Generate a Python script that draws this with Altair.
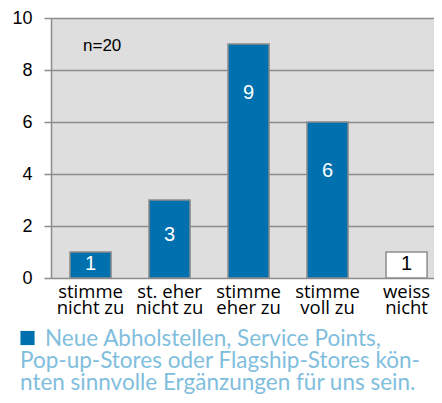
import altair as alt
import pandas as pd

categories = ["stimme\nnicht zu", "st. eher\nnicht zu", "stimme\neher zu", "stimme\nvoll zu", "weiss\nnicht"]
values = [1, 3, 9, 6, 1]
fills = ["#0071ae", "#0071ae", "#0071ae", "#0071ae", "#ffffff"]
label_colors = ["#ffffff", "#ffffff", "#ffffff", "#ffffff", "#000000"]
y_ticks = [0, 2, 4, 6, 8, 10]
n_text = "n=20"
caption_first = "Neue Abholstellen, Service Points,"
caption_rest = ["Pop-up-Stores oder Flagship-Stores kön-", "nten sinnvolle Ergänzungen für uns sein."]

df = pd.DataFrame({"cat": categories, "value": values, "fill": fills, "lc": label_colors})

xscale = alt.Scale(paddingInner=0.48, paddingOuter=0.164, align=0.733)

x = alt.X("cat:N", sort=categories, title=None, scale=xscale,
          axis=alt.Axis(labelExpr="split(datum.label, '\\n')", labelAngle=0, ticks=False, domain=False,
                        labelFont="Open Sans", labelFontSize=18.5, labelColor="#000000",
                        labelLineHeight=16, labelPadding=4, grid=False))
y = alt.Y("value:Q", title=None,
          scale=alt.Scale(domain=[0, 10], nice=False),
          axis=alt.Axis(values=y_ticks, tickSize=7, tickColor="#8c8c8c", tickWidth=1.5,
                        domainColor="#8c8c8c", domainWidth=1.5,
                        gridColor="#8c8c8c", gridWidth=1.5, grid=True,
                        labelFont="Liberation Sans", labelFontSize=18, labelColor="#000000",
                        labelPadding=12))

bars = alt.Chart(df).mark_bar(stroke="#8c8c8c", strokeWidth=1.5).encode(
    x=x, y=y, fill=alt.Fill("fill:N", scale=None))

labels = alt.Chart(df).transform_calculate(
    lp="datum.value - min(1.9, datum.value * 0.45)"
).mark_text(font="Liberation Sans", fontSize=20, baseline="middle").encode(
    x=alt.X("cat:N", sort=categories, scale=xscale),
    y=alt.Y("lp:Q"),
    text=alt.Text("value:Q"),
    color=alt.Color("lc:N", scale=None))

ntext = alt.Chart(pd.DataFrame({"t": [n_text]})).mark_text(
    font="Liberation Sans", fontSize=17, align="left", baseline="middle", color="#000000"
).encode(x=alt.value(32), y=alt.value(28), text="t:N")

square = alt.Chart(pd.DataFrame({"t": [caption_first]})).mark_square(
    size=200, color="#0071ae", opacity=1, filled=True
).encode(x=alt.value(-23.5), y=alt.value(320))

cap1 = alt.Chart(pd.DataFrame({"t": [caption_first]})).mark_text(
    font="Lato", fontSize=22.5, align="left", baseline="alphabetic", color="#7fbedd"
).encode(x=alt.value(-6), y=alt.value(328), text="t:N")

cap2 = alt.Chart(pd.DataFrame({"t": [caption_rest]})).mark_text(
    font="Lato", fontSize=22.5, align="left", baseline="alphabetic", color="#7fbedd", lineHeight=21.5
).encode(x=alt.value(-31), y=alt.value(350), text="t:N")

chart = alt.layer(bars, labels, ntext, square, cap1, cap2).properties(
    width=383, height=260,
    autosize=alt.AutoSizeParams(type="none"),
    padding={"left": 43, "top": 10, "right": 0, "bottom": 116},
).configure_view(fill="#dedede", stroke=None)

chart.save("out.html", embed_options={"renderer": "svg", "actions": False})
